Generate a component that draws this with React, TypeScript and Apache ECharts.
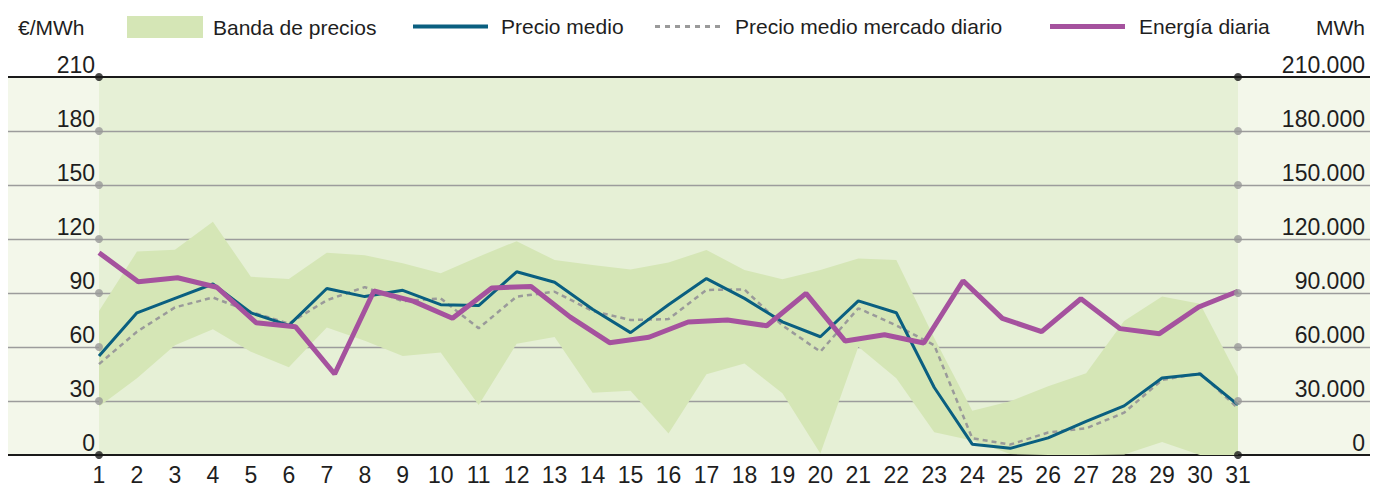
import React, { useEffect, useRef } from "react";
import * as echarts from "echarts";

// ---------- data ----------
const DAYS = [1, 2, 3, 4, 5, 6, 7, 8, 9, 10, 11, 12, 13, 14, 15, 16, 17, 18, 19, 20, 21, 22, 23, 24, 25, 26, 27, 28, 29, 30, 31];

const BAND_LOW = [27, 42.6, 61, 69.8, 57.4, 48.7, 70.9, 63.5, 55, 56.9, 27.8, 61.8, 65.5, 34.6, 35.7, 12, 44.8, 50.9, 34.3, 0.9, 60.2, 42.6, 12.6, 8, 0.5, 0, 0, 0.3, 7.2, 0, 0];
const BAND_HIGH = [80, 113, 114, 129.6, 99, 97.8, 112.4, 111, 106.5, 101, 110.2, 118.8, 108.3, 105.6, 103.1, 106.9, 113.9, 102.8, 97.6, 102.8, 109.1, 108.3, 65, 24.6, 29.8, 38.2, 45.4, 74.5, 88, 84, 43.5];

const PRECIO_MEDIO = [55, 79, 87, 95, 79, 72, 92.5, 88, 91.5, 83.5, 83, 101.8, 96, 81, 68, 83.5, 98, 87, 74, 65.7, 85.6, 79, 37.5, 6, 3.7, 9.5, 18.7, 27.3, 42.8, 45, 27.8];
const PRECIO_MERCADO = [50.5, 68.5, 82, 87.5, 79.5, 73, 86, 93.3, 85.5, 87, 70.4, 88, 90.7, 80, 75, 75.5, 91.7, 92, 72, 57.4, 81.5, 72, 61, 9.3, 5.8, 12.5, 14.8, 23.5, 41.7, 45.4, 26];

// daily energy (MWh): 30 samples spread over the same span
const ENERGIA = [112400, 96300, 98500, 93200, 73500, 71300, 45000, 91100, 85500, 76000, 92800, 93600, 76600, 62400, 65400, 73900, 75000, 71800, 89800, 63300, 66800, 62200, 96800, 75900, 68500, 86800, 70200, 67400, 82200, 91000];

const PRICE_TICKS = [0, 30, 60, 90, 120, 150, 180, 210];
const ENERGY_TICKS = [0, 30000, 60000, 90000, 120000, 150000, 180000, 210000];

const SERIES_NAMES = ["Banda de precios", "Precio medio", "Precio medio mercado diario", "Energía diaria"];
const UNIT_LEFT = "€/MWh";
const UNIT_RIGHT = "MWh";

// ---------- layout / style ----------
const W = 1381;
const H = 486;
const OUTER_LEFT = 8;
const OUTER_RIGHT = 1370;
const PLOT_LEFT = 99;
const PLOT_RIGHT = 1238;
const TOP = 77;
const BOTTOM = 455;
const LEGEND_TOP = 16;

const C_BAND = "#d5e6b6";
const C_CENTER = "#e6f0d6";
const C_SIDE = "#f3f7ea";
const C_BLUE = "#0a5f80";
const C_PURPLE = "#a5529e";
const C_DASH = "#9a9a9a";
const C_GRID = "#9c9c9c";
const C_TEXT = "#1e1e1e";
const FONT = "'Liberation Sans', Arial, sans-serif";

const DASH_ICON =
  "path://M0 0h5v3h-5z M10 0h5v3h-5z M20 0h5v3h-5z M30 0h5v3h-5z M40 0h5v3h-5z M50 0h5v3h-5z M60 0h5v3h-5z";

function fmtThousands(v: number): string {
  if (v === 0) return "0";
  const k = Math.floor(v / 1000);
  const r = String(v % 1000).padStart(3, "0");
  return k + "." + r;
}

export default function App() {
  const ref = useRef<HTMLDivElement>(null);

  useEffect(() => {
    if (!ref.current) return;
    const chart = echarts.init(ref.current, undefined, { renderer: "svg" });

    const daySpacing = (PLOT_RIGHT - PLOT_LEFT) / (DAYS.length - 1);
    const xMin = DAYS[0] - (PLOT_LEFT - OUTER_LEFT) / daySpacing;
    const xMax = DAYS[DAYS.length - 1] + (OUTER_RIGHT - PLOT_RIGHT) / daySpacing;

    const eSpacing = (PLOT_RIGHT - PLOT_LEFT) / (ENERGIA.length - 1);
    const eMin = 1 - (PLOT_LEFT - OUTER_LEFT) / eSpacing;
    const eMax = ENERGIA.length + (OUTER_RIGHT - PLOT_RIGHT) / eSpacing;

    const first = DAYS[0];
    const last = DAYS[DAYS.length - 1];
    const pMax = PRICE_TICKS[PRICE_TICKS.length - 1];

    const legendText = { fontSize: 21, color: C_TEXT, fontFamily: FONT };
    const legendBase = { top: LEGEND_TOP, padding: 0, selectedMode: false };

    const option: any = {
      animation: false,
      textStyle: { fontFamily: FONT },
      grid: {
        left: OUTER_LEFT,
        right: W - OUTER_RIGHT,
        top: TOP,
        bottom: H - BOTTOM,
        show: true,
        backgroundColor: C_SIDE,
        borderWidth: 0,
      },
      legend: [
        {
          ...legendBase,
          data: [{ name: SERIES_NAMES[0], icon: "rect", itemStyle: { color: C_BAND } }],
          left: 127, itemWidth: 76, itemHeight: 22,
          textStyle: { ...legendText, padding: [0, 0, 0, 5] },
        },
        {
          ...legendBase,
          data: [{ name: SERIES_NAMES[1], icon: "rect", itemStyle: { color: C_BLUE } }],
          left: 413, itemWidth: 75, itemHeight: 4,
          textStyle: { ...legendText, padding: [0, 0, 0, 8] },
        },
        {
          ...legendBase,
          data: [{ name: SERIES_NAMES[2], icon: DASH_ICON, itemStyle: { color: C_DASH } }],
          left: 655, itemWidth: 65, itemHeight: 3,
          textStyle: { ...legendText, padding: [0, 0, 0, 10] },
        },
        {
          ...legendBase,
          data: [{ name: SERIES_NAMES[3], icon: "rect", itemStyle: { color: C_PURPLE } }],
          left: 1050, itemWidth: 75, itemHeight: 5,
          textStyle: { ...legendText, padding: [0, 0, 0, 9] },
        },
      ],
      graphic: [
        {
          type: "text",
          left: 18,
          top: LEGEND_TOP + 1,
          style: { text: UNIT_LEFT, fontSize: 21, fill: C_TEXT, fontFamily: FONT },
          silent: true,
        },
        {
          type: "text",
          right: W - 1365,
          top: LEGEND_TOP + 1,
          style: { text: UNIT_RIGHT, fontSize: 21, fill: C_TEXT, fontFamily: FONT },
          silent: true,
        },
      ],
      xAxis: [
        {
          type: "value",
          min: xMin,
          max: xMax,
          position: "bottom",
          axisLine: { show: false },
          axisTick: { show: false },
          splitLine: { show: false },
          axisLabel: {
            customValues: DAYS,
            fontSize: 23,
            color: C_TEXT,
            margin: 8,
            formatter: (v: number) => String(v),
          },
        },
        {
          type: "value",
          min: eMin,
          max: eMax,
          show: false,
        },
      ],
      yAxis: [
        {
          type: "value",
          min: 0,
          max: pMax,
          interval: 30,
          offset: -(PLOT_LEFT - OUTER_LEFT),
          axisLine: { show: false },
          axisTick: { show: false },
          splitLine: { show: false },
          axisLabel: {
            fontSize: 23,
            color: C_TEXT,
            margin: 4,
            verticalAlign: "bottom",
            padding: [0, 0, 1, 0],
          },
        },
        {
          type: "value",
          min: 0,
          max: ENERGY_TICKS[ENERGY_TICKS.length - 1],
          interval: 30000,
          position: "right",
          offset: -(OUTER_RIGHT - PLOT_RIGHT),
          axisLine: { show: false },
          axisTick: { show: false },
          splitLine: { show: false },
          axisLabel: {
            fontSize: 23,
            color: C_TEXT,
            margin: 127,
            align: "right",
            verticalAlign: "bottom",
            padding: [0, 0, 1, 0],
            formatter: (v: number) => fmtThousands(v),
          },
        },
      ],
      series: [
        {
          name: "__center",
          type: "scatter",
          data: [],
          silent: true,
          z: 1,
          markArea: {
            silent: true,
            z: 1,
            itemStyle: { color: C_CENTER, borderWidth: 0 },
            label: { show: false },
            data: [[{ xAxis: first, yAxis: 0 }, { xAxis: last, yAxis: pMax }]],
          },
        },
        {
          name: "__grid",
          type: "scatter",
          data: [],
          silent: true,
          z: 2,
          markLine: {
            silent: true,
            z: 2,
            symbol: "none",
            label: { show: false },
            data: PRICE_TICKS.map((t) => ({
              yAxis: t,
              lineStyle: {
                color: t === 0 || t === pMax ? "#1a1a1a" : C_GRID,
                width: t === 0 || t === pMax ? 1.8 : 1.4,
                type: "solid",
              },
            })),
          },
        },
        {
          name: SERIES_NAMES[0],
          type: "custom",
          silent: true,
          z: 4,
          color: C_BAND,
          itemStyle: { color: C_BAND },
          data: DAYS.map((d, i) => [d, BAND_LOW[i], BAND_HIGH[i]]),
          encode: { x: 0, y: [1, 2] },
          renderItem: (params: any, api: any) => {
            if (params.dataIndex !== 0) return null;
            const upper = DAYS.map((d, i) => api.coord([d, BAND_HIGH[i]]));
            const lower = DAYS.map((d, i) => api.coord([d, BAND_LOW[i]])).reverse();
            return {
              type: "polygon",
              shape: { points: upper.concat(lower) },
              style: { fill: C_BAND, stroke: null },
            };
          },
        },
        {
          name: SERIES_NAMES[2],
          type: "line",
          data: DAYS.map((d, i) => [d, PRECIO_MERCADO[i]]),
          symbol: "none",
          color: C_DASH,
          lineStyle: { color: C_DASH, width: 2.5, type: [5, 4] },
          z: 5,
        },
        {
          name: SERIES_NAMES[1],
          type: "line",
          data: DAYS.map((d, i) => [d, PRECIO_MEDIO[i]]),
          symbol: "none",
          color: C_BLUE,
          lineStyle: { color: C_BLUE, width: 3 },
          z: 6,
        },
        {
          name: SERIES_NAMES[3],
          type: "line",
          xAxisIndex: 1,
          yAxisIndex: 1,
          data: ENERGIA.map((v, i) => [i + 1, v]),
          symbol: "none",
          color: C_PURPLE,
          lineStyle: { color: C_PURPLE, width: 5 },
          z: 7,
        },
        {
          name: "__dots",
          type: "scatter",
          silent: true,
          symbolSize: 8,
          z: 9,
          data: PRICE_TICKS.flatMap((t) => [
            [first, t],
            [last, t],
          ]),
          itemStyle: {
            color: (p: any) => (p.value[1] === 0 || p.value[1] === pMax ? "#1a1a1a" : "#999999"),
          },
        },
      ],
    };

    chart.setOption(option);
    return () => chart.dispose();
  }, []);

  return (
    <div style={{ position: "fixed", left: 0, top: 0, width: W, height: H, background: "#ffffff" }}>
      <div ref={ref} style={{ width: W, height: H }} />
    </div>
  );
}
